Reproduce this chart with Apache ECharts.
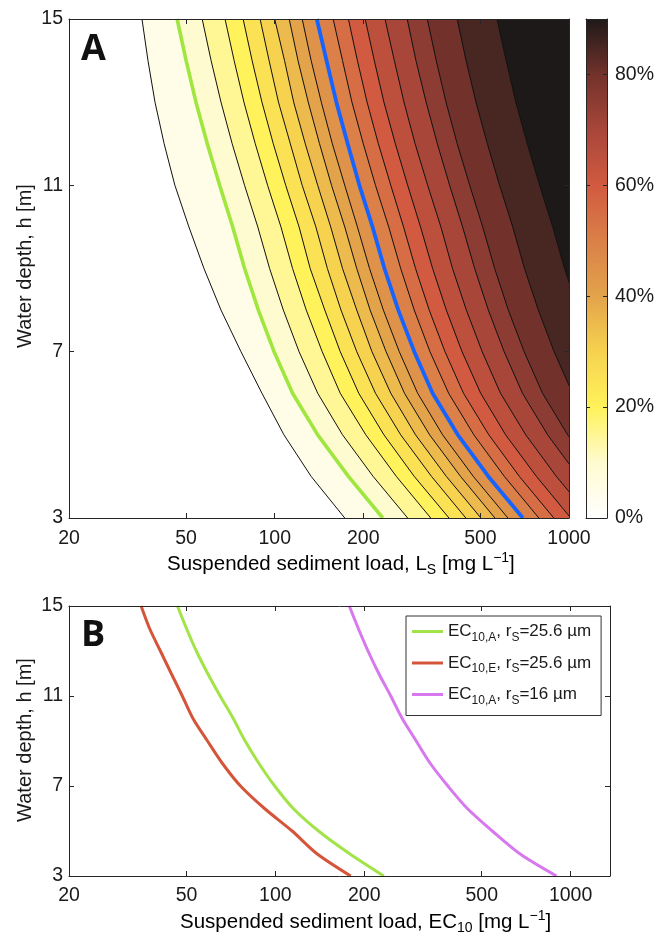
<!DOCTYPE html>
<html><head><meta charset="utf-8">
<script src="https://cdn.jsdelivr.net/npm/echarts@6/dist/echarts.min.js"></script>
<style>html,body{margin:0;padding:0;background:#fff}#c{width:655px;height:938px}</style>
</head><body><div id="c"></div>
<script>
// ---------- data ----------
const depths = [3,4,5,6,7,8,9,10,11,12,13,14,15];
const levels = [5,10,15,20,25,30,35,40,45,50,55,60,65,70,75,80,85,90];
// contour lines of panel A: load L_S [mg/L] at each depth
const lvl05 = [173, 133, 107.5, 90.5, 76.8, 65.7, 57.5, 51.1, 45.8, 42.1, 39.2, 37.1, 35.4];
const lvl10 = [233, 178, 140, 115, 99.5, 88.0, 79.0, 72.0, 65.0, 59.0, 54.0, 50.0, 46.6];
const lvl15 = [283, 216, 170, 140, 121, 107, 96.1, 87.6, 79.0, 71.7, 65.7, 60.8, 56.7];
const lvl20 = [339, 259, 204, 167, 145, 128, 115, 105, 94.6, 85.9, 78.6, 72.8, 67.8];
const lvl25 = [391, 298, 235, 193, 167, 148, 132, 121, 109, 98.9, 90.5, 83.8, 78.1];
const lvl30 = [446, 341, 268, 220, 190, 168, 151, 138, 124, 113, 103, 95.7, 89.2];
const lvl35 = [502, 383, 301, 248, 214, 190, 170, 155, 140, 127, 116, 108, 100];
const lvl40 = [560, 428, 336, 276, 239, 211, 190, 173, 156, 142, 130, 120, 112];
const lvl45 = [620, 473, 372, 306, 265, 234, 210, 191, 173, 157, 144, 133, 124];
const lvl50 = [697, 532, 419, 344, 298, 263, 236, 215, 194, 177, 162, 150, 139];
const lvl55 = [790, 603, 475, 390, 337, 298, 268, 244, 220, 200, 183, 170, 158];
const lvl60 = [888, 678, 534, 438, 379, 335, 301, 274, 248, 225, 206, 191, 178];
const lvl65 = [1014, 775, 609, 501, 433, 383, 344, 313, 283, 257, 235, 218, 203];
const lvl70 = [1186, 906, 713, 585, 507, 448, 402, 367, 331, 300, 275, 255, 237];
const lvl75 = [1409, 1076, 846, 695, 602, 532, 478, 435, 393, 357, 327, 302, 282];
const lvl80 = [1647, 1258, 990, 813, 704, 622, 559, 509, 460, 417, 382, 354, 330];
const lvl85 = [2083, 1591, 1252, 1028, 890, 787, 706, 644, 581, 528, 483, 447, 417];
const lvl90 = [2850, 2177, 1712, 1406, 1217, 1076, 966, 881, 795, 722, 660, 612, 570];
// panel B curves: EC10 [mg/L] at each depth
const ec10A_r256 = [233, 178, 140, 115, 99.5, 88.0, 79.0, 72.0, 65.0, 59.0, 54.0, 50.0, 46.6];
const ec10E_r256 = [180, 138, 114, 91.9, 76.2, 66.2, 58.9, 52.6, 48.4, 44.4, 40.8, 37.5, 35.1];
const ec10A_r16  = [896, 671, 543, 447, 384, 335, 300, 269, 246, 224, 206, 191, 178];
// ticks
const xTicks = [20, 50, 100, 200, 500, 1000];
const yTicks = [3, 7, 11, 15];
const cbTicks = [0, 20, 40, 60, 80];
// colormap
const cmapStops  = [0, 10, 20, 30, 40, 50, 60, 70, 80, 90];
const cmapColors = ['#ffffff','#fffbd0','#fff25a','#f6d24f','#e3a34a','#da8048','#d15a40','#a8463a','#72322b','#1e1919'];

// ---------- helpers ----------
const contourList = [lvl05,lvl10,lvl15,lvl20,lvl25,lvl30,lvl35,lvl40,lvl45,lvl50,lvl55,lvl60,lvl65,lvl70,lvl75,lvl80,lvl85,lvl90];
const FONT = 'Liberation Sans';
const AXC = '#262626';
const TXT = '#1a1a1a';
const FS = 19.5;
const TFS = 20.5;
const AMAX = 1000, BMAX = 1360, CBMAX = 90;

function hex2rgb(h){return [1,3,5].map(i=>parseInt(h.slice(i,i+2),16));}
function cmap(p){
  if (p <= cmapStops[0]) return cmapColors[0];
  for (let i=1;i<cmapStops.length;i++){
    if (p <= cmapStops[i]){
      const t=(p-cmapStops[i-1])/(cmapStops[i]-cmapStops[i-1]);
      const a=hex2rgb(cmapColors[i-1]), b=hex2rgb(cmapColors[i]);
      const c=a.map((v,k)=>Math.round(v+(b[k]-v)*t));
      return 'rgb('+c.join(',')+')';
    }
  }
  return cmapColors[cmapColors.length-1];
}

function xAx(grid, max, pos, labels, z, margin){
  return {type:'log', logBase:10, gridIndex:grid, min:20, max:max, position:pos, z:z,
    axisLine:{show:true, onZero:false, lineStyle:{color:AXC, width:1}},
    axisTick:{show:true, inside:true, length:5, customValues:xTicks, lineStyle:{color:AXC, width:1}},
    axisLabel:{show:labels, customValues:xTicks, margin:margin, color:TXT, fontSize:FS, fontFamily:FONT,
      formatter:function(v){return String(Math.round(v));}},
    splitLine:{show:false}, minorTick:{show:false}, minorSplitLine:{show:false}};
}
function yAx(grid, pos, labels, z){
  return {type:'value', gridIndex:grid, min:3, max:15, position:pos, z:z,
    axisLine:{show:true, onZero:false, lineStyle:{color:AXC, width:1}},
    axisTick:{show:true, inside:true, length:5, customValues:yTicks, lineStyle:{color:AXC, width:1}},
    axisLabel:{show:labels, customValues:yTicks, margin:6, color:TXT, fontSize:FS, fontFamily:FONT},
    splitLine:{show:false}};
}
function cbX(pos){
  return {type:'category', gridIndex:1, data:['cb'], position:pos, z:10,
    axisLine:{show:true, onZero:false, lineStyle:{color:AXC, width:1}},
    axisTick:{show:false}, axisLabel:{show:false}, splitLine:{show:false}};
}
function cbY(pos, labels){
  return {type:'value', gridIndex:1, min:0, max:CBMAX, position:pos, z:10,
    axisLine:{show:true, onZero:false, lineStyle:{color:AXC, width:1}},
    axisTick:{show:true, inside:true, length:4, customValues:cbTicks, lineStyle:{color:AXC, width:1}},
    axisLabel:{show:labels, customValues:cbTicks, margin:8, formatter:'{value}%', color:TXT, fontSize:FS, fontFamily:FONT},
    splitLine:{show:false}};
}

const series = [];
// filled bands
series.push({
  type:'custom', xAxisIndex:0, yAxisIndex:0, clip:true, silent:true, z:2,
  encode:{x:0, y:1},
  data: levels.map((lv,i)=>[contourList[i][depths.length-1], depths[depths.length-1]]),
  renderItem:function(params, api){
    const i = params.dataIndex;
    const lower = contourList[i];
    const upper = i+1 < contourList.length ? contourList[i+1] : null;
    const pts = [];
    for (let k=0;k<depths.length;k++) pts.push(api.coord([lower[k], depths[k]]));
    for (let k=depths.length-1;k>=0;k--) pts.push(api.coord([upper ? upper[k] : AMAX*20, depths[k]]));
    const col = cmap(levels[i]);
    return {type:'polygon', shape:{points:pts}, style:{fill:col, stroke:col, lineWidth:0.6}};
  }
});
// contour lines
levels.forEach((lv,i)=>{
  let color='#111', width=1, z=3;
  if (lv===10){color='#9fe63f'; width=3.6; z=4;}
  if (lv===50){color='#1763ff'; width=3.8; z=4;}
  series.push({type:'line', xAxisIndex:0, yAxisIndex:0, silent:true, clip:true, symbol:'none', z:z,
    data: depths.map((h,k)=>[contourList[i][k], h]),
    lineStyle:{color:color, width:width}});
});
// colorbar
series.push({type:'bar', xAxisIndex:2, yAxisIndex:2, data:[CBMAX], barWidth:'100%', silent:true, z:2,
  itemStyle:{color:new echarts.graphic.LinearGradient(0,1,0,0, cmapStops.map((s,i)=>({offset:s/CBMAX, color:cmapColors[i]})))}});
// panel B
const bNames = ['EC10,A, rS=25.6 µm','EC10,E, rS=25.6 µm','EC10,A, rS=16 µm'];
const bRich = {
  'EC10,A, rS=25.6 µm':'{n|EC}{s|10,A}{n|, r}{s|S}{n|=25.6 µm}',
  'EC10,E, rS=25.6 µm':'{n|EC}{s|10,E}{n|, r}{s|S}{n|=25.6 µm}',
  'EC10,A, rS=16 µm':'{n|EC}{s|10,A}{n|, r}{s|S}{n|=16 µm}'
};
const bData = [ec10A_r256, ec10E_r256, ec10A_r16];
const bColors = ['#a2e448','#d4553a','#d878ef'];
bData.forEach((arr,j)=>{
  series.push({type:'line', name:bNames[j], xAxisIndex:4, yAxisIndex:4, symbol:'none', clip:true, z:3, smooth:0.3,
    data: depths.map((h,k)=>[arr[k], h]),
    lineStyle:{color:bColors[j], width:3}, itemStyle:{color:bColors[j]}});
});

const titleRich = {
  n:{fontSize:TFS, fontFamily:FONT, color:TXT, lineHeight:26},
  s:{fontSize:14, fontFamily:FONT, color:TXT, lineHeight:14, verticalAlign:'bottom'},
  p:{fontSize:14, fontFamily:FONT, color:TXT, lineHeight:14, verticalAlign:'top'}
};

const option = {
  animation:false,
  backgroundColor:'#fff',
  grid:[
    {left:69, top:19, width:500, height:499, outerBoundsMode:'none', containLabel:false},
    {left:586, top:19, width:21, height:499, outerBoundsMode:'none', containLabel:false},
    {left:69, top:606, width:541, height:270, outerBoundsMode:'none', containLabel:false}
  ],
  xAxis:[ xAx(0, AMAX, 'bottom', true, 10, 11), xAx(0, AMAX, 'top', false, 10, 8), cbX('bottom'), cbX('top'),
          xAx(2, BMAX, 'bottom', true, 10, 10), xAx(2, BMAX, 'top', false, 10, 8) ],
  yAxis:[ yAx(0, 'left', true, 10), yAx(0, 'right', false, 10), cbY('right', true), cbY('left', false),
          yAx(2, 'left', true, 10), yAx(2, 'right', false, 10) ],
  legend:{
    data:bNames.map(n=>({name:n, icon:'rect'})), orient:'vertical', left:406, top:616,
    itemWidth:31, itemHeight:3, itemGap:11, padding:[7,10,9,6],
    borderColor:'#333', borderWidth:1, backgroundColor:'#fff', borderRadius:0,
    selectedMode:false,
    formatter:function(name){return bRich[name];},
    textStyle:{color:TXT, fontFamily:FONT, fontSize:17,
      rich:{ n:{fontSize:17, fontFamily:FONT, color:TXT, lineHeight:24},
             s:{fontSize:12, fontFamily:FONT, color:TXT, lineHeight:12, verticalAlign:'bottom'} }}
  },
  graphic:[
    {type:'text', x:81, y:50, z:20, style:{text:'A', font:'bold 36px "Open Sans"', fill:'#111', align:'left', verticalAlign:'middle'}},
    {type:'text', x:81, y:636, z:20, style:{text:'B', font:'bold 36px "Open Sans"', fill:'#111', align:'left', verticalAlign:'middle'}},
    {type:'text', x:25, y:266, rotation:Math.PI/2, z:20, style:{text:'Water depth, h [m]', fontSize:20, fontFamily:FONT, fill:TXT, align:'center', verticalAlign:'middle'}},
    {type:'text', x:25, y:740, rotation:Math.PI/2, z:20, style:{text:'Water depth, h [m]', fontSize:20, fontFamily:FONT, fill:TXT, align:'center', verticalAlign:'middle'}},
    {type:'text', x:167, y:564, z:20, style:{text:'{n|Suspended sediment load, L}{s|S}{n| [mg L}{p|−1}{n|]}', rich:titleRich, align:'left', verticalAlign:'middle'}},
    {type:'text', x:180, y:922, z:20, style:{text:'{n|Suspended sediment load, EC}{s|10}{n| [mg L}{p|−1}{n|]}', rich:titleRich, align:'left', verticalAlign:'middle'}}
  ],
  series:series
};
const chart = echarts.init(document.getElementById('c'), null, {renderer:'canvas'});
chart.setOption(option);
</script></body></html>
